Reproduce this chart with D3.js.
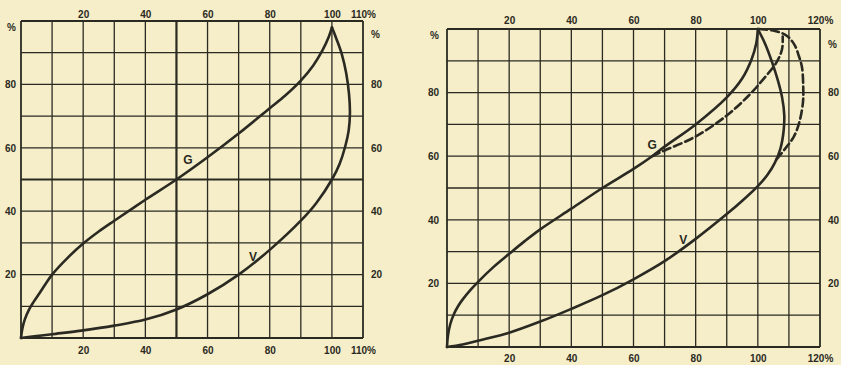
<!DOCTYPE html>
<html><head><meta charset="utf-8">
<script src="https://cdn.jsdelivr.net/npm/d3@7"></script>
<style>
body{margin:0;background:#f5eec9;}
svg{display:block;}
text{font-family:"Liberation Sans",Arial,sans-serif;font-weight:bold;fill:#2b2a22;}
</style>
</head><body>
<svg id="c" width="841" height="365"></svg>
<script>
// ---- data (percent values) ----
const leftXTicks = [20, 40, 60, 80, 100, 110];
const leftYTicks = [20, 40, 60, 80, 100];
const rightXTicks = [20, 40, 60, 80, 100, 120];
const rightYTicks = [20, 40, 60, 80, 100];

// left diagram
const leftG = [[0,0],[0.4,2.8],[1.2,5.8],[2.5,8.8],[4,11.3],[6,14.2],[8,17.2],[10,20],[15,25.3],[20,29.8],[25,33.6],[30,37],[40,43.6],[50,50],[60,57],[70,64.5],[80,72.5],[85,76.5],[90,81.2],[94,86],[97,90.8],[99,95],[100,98]];
const leftV = [[0,0],[5,0.6],[10,1.2],[20,2.4],[30,3.9],[40,5.8],[50,9],[60,13.8],[70,20],[80,27.8],[90,37],[95,42.6],[100,50],[102.5,55],[104.3,60.5],[105.4,65.5],[105.8,71],[105.5,77],[104.6,83.5],[103.2,89.5],[101.4,94.5],[100,98]];

// right diagram
const rightG = [[0,0],[0.3,3.5],[1,7],[2.2,10.3],[3.6,12.9],[5,14.9],[7.5,17.9],[10,20.5],[15,25.2],[20,29.3],[25,33.3],[30,37],[40,43.5],[50,50],[60,56],[66,60],[70,63],[80,70],[90,78.5],[95,84.5],[98,90.5],[99.5,95.5],[100,100]];
const rightGDashed = [[66,60],[70,61.8],[80,66.2],[90,72.8],[97,79],[102,84.5],[106,89.5],[107.8,93.7],[108,97.6]];
const rightV = [[0,0],[5,0.8],[10,2],[20,4.5],[30,8],[40,12],[50,16.3],[60,21.3],[70,27],[80,34],[90,41.8],[95,46],[100,50.6],[103,54],[105.5,58],[107.3,62.5],[108.3,68],[108.5,73],[107.8,78.5],[106.4,84],[104.6,89.5],[102.5,95],[100,100]];
const rightVDashed = [[106,59],[108.5,62],[111.5,66],[113.3,70.5],[114.5,76.8],[114.6,82],[114.2,88],[113.2,91.5],[111.8,95],[109.4,97.8],[105.5,99.4],[100,100]];

const curveNames = ["G", "V"];

// ---- drawing ----
const svg = d3.select("#c");
const ink = "#2b2a22";

function tickFmt(maxX){ return d => d === maxX ? d + "%" : String(d); }
function yFmt(d){ return d === 100 ? "%" : String(d); }

function drawChart(cfg){
  const x = d3.scaleLinear().domain([0, cfg.xMax]).range([cfg.x0, cfg.x1]);
  const y = d3.scaleLinear().domain([0, 100]).range([cfg.y0, cfg.y1]);
  const g = svg.append("g");

  const gx = d3.range(0, cfg.xMax + 1, 10);
  const gy = d3.range(0, 101, 10);
  g.selectAll(".vg").data(gx).join("line")
    .attr("x1", d => x(d)).attr("x2", d => x(d))
    .attr("y1", y(0)).attr("y2", y(100))
    .attr("stroke", ink)
    .attr("stroke-width", d => (cfg.boldMid && d === 50) ? 2.2 : (d === 0 || d === cfg.xMax ? 1.8 : 1.3));
  g.selectAll(".hg").data(gy).join("line")
    .attr("x1", x(0)).attr("x2", x(cfg.xMax))
    .attr("y1", d => y(d)).attr("y2", d => y(d))
    .attr("stroke", ink)
    .attr("stroke-width", d => (cfg.boldMid && d === 50) ? 2.2 : (d === 0 || d === 100 ? 1.8 : 1.3));

  const styleAxis = sel => { sel.select(".domain").remove(); sel.selectAll("line").remove();
    sel.selectAll("text").attr("font-size", 10).attr("font-weight", "bold").attr("fill", ink)
       .attr("font-family", "Liberation Sans, Arial, sans-serif"); };
  g.append("g").attr("transform", `translate(0,${y(0) + 3})`)
    .call(d3.axisBottom(x).tickValues(cfg.xTicks).tickFormat(tickFmt(cfg.xMax)).tickSize(0).tickPadding(cfg.botPad))
    .call(styleAxis);
  g.append("g").attr("transform", `translate(0,${y(100)})`)
    .call(d3.axisTop(x).tickValues(cfg.xTicks).tickFormat(tickFmt(cfg.xMax)).tickSize(0).tickPadding(cfg.topPad))
    .call(styleAxis);
  g.append("g").attr("transform", `translate(${x(0)},0)`)
    .call(d3.axisLeft(y).tickValues(cfg.yTicks).tickFormat(yFmt).tickSize(0).tickPadding(cfg.leftPad))
    .call(styleAxis)
    .selectAll("text").attr("dy", d => d === 100 ? "0.9em" : "0.32em");
  g.append("g").attr("transform", `translate(${x(cfg.xMax)},0)`)
    .call(d3.axisRight(y).tickValues(cfg.yTicks).tickFormat(yFmt).tickSize(0).tickPadding(cfg.rightPad))
    .call(styleAxis)
    .selectAll("text").attr("dy", d => d === 100 ? (cfg.rightPctDy) : "0.32em");

  const line = d3.line().x(d => x(d[0])).y(d => y(d[1])).curve(d3.curveCatmullRom.alpha(0.5));
  cfg.series.forEach(s => {
    g.append("path").datum(s.data).attr("d", line)
      .attr("fill", "none").attr("stroke", ink).attr("stroke-width", 2.6)
      .attr("stroke-linecap", "round").attr("stroke-linejoin", "round")
      .attr("stroke-dasharray", s.dashed ? "8,4" : null);
  });
  cfg.labels.forEach(l => {
    g.append("text").attr("x", x(l.at[0])).attr("y", y(l.at[1]))
      .attr("text-anchor", "middle").attr("dominant-baseline", "central")
      .attr("font-size", 12).text(l.name);
  });
}

drawChart({
  xMax: 110, x0: 21, x1: 363, y0: 338, y1: 21, boldMid: true,
  xTicks: leftXTicks, yTicks: leftYTicks,
  botPad: 6, topPad: 3, leftPad: 5, rightPad: 8, rightPctDy: "1.6em",
  series: [{data: leftG}, {data: leftV}],
  labels: [{name: curveNames[0], at: [53.7, 56]}, {name: curveNames[1], at: [74.6, 25.5]}]
});
drawChart({
  xMax: 120, x0: 447, x1: 820, y0: 347, y1: 29, boldMid: false,
  xTicks: rightXTicks, yTicks: rightYTicks,
  botPad: 5, topPad: 5, leftPad: 8, rightPad: 8, rightPctDy: "1.8em",
  series: [{data: rightG}, {data: rightGDashed, dashed: true}, {data: rightV}, {data: rightVDashed, dashed: true}],
  labels: [{name: curveNames[0], at: [66, 63.5]}, {name: curveNames[1], at: [76, 33.5]}]
});
</script>
</body></html>
